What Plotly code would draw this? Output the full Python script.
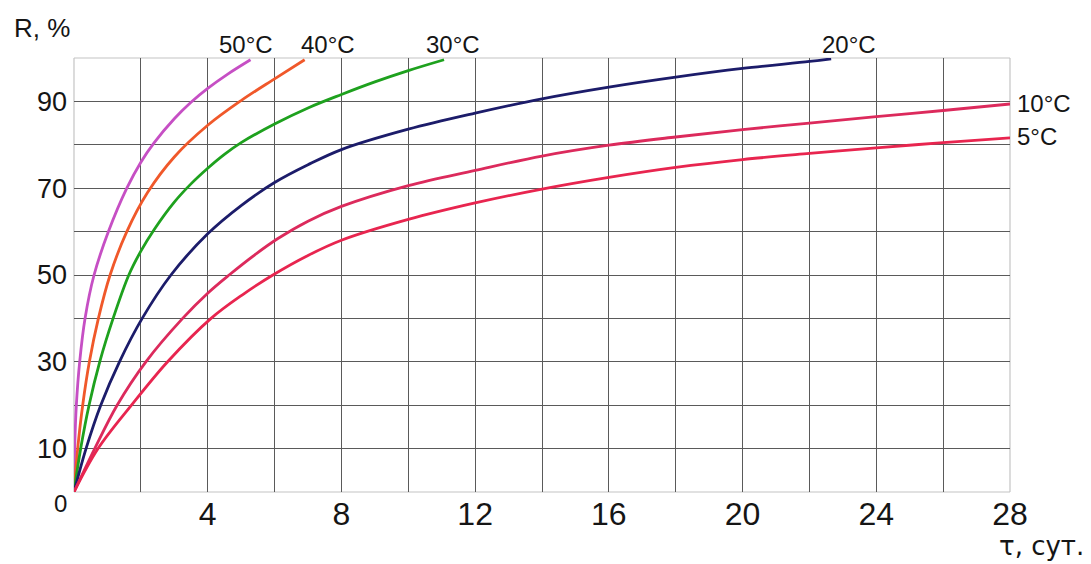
import plotly.graph_objects as go

# ---- data ----
t50 = [0, 0.02, 0.07, 0.17, 0.33, 0.6, 1.03, 1.58, 2.0, 2.4, 3.0, 3.5, 4.0, 4.6, 5.28]
r50 = [0, 10, 20, 30, 40, 50, 60, 70, 76, 80.5, 86, 89.8, 93, 96.3, 99.6]

t40 = [0, 0.11, 0.26, 0.46, 0.73, 1.08, 1.58, 2.2, 3.0, 4.0, 5.0, 6.0, 6.9]
r40 = [0, 10, 20, 30, 40, 50, 60, 69, 77.2, 84.5, 90.2, 95.2, 99.6]

t30 = [0, 0.2, 0.45, 0.77, 1.17, 1.64, 2.0, 2.4, 3.0, 3.5, 4.0, 4.5, 5.0, 6.0, 7.0, 8.0, 9.0, 10.0, 11.07]
r30 = [0, 10, 20, 30, 40, 50, 55.5, 60.5, 66.8, 71, 74.6, 77.8, 80.5, 84.8, 88.5, 91.6, 94.5, 97.1, 99.6]

t20 = [0, 0.36, 0.8, 1.36, 2.04, 2.9, 4.0, 5.0, 6.0, 7.0, 8.0, 10, 12, 14, 16, 18, 20, 22, 22.65]
r20 = [0, 10, 20, 30, 40, 50, 59.5, 66, 71.3, 75.4, 78.9, 83.6, 87.3, 90.6, 93.3, 95.6, 97.6, 99.2, 99.8]

t10 = [0, 0.62, 1.29, 2.15, 3.25, 4.0, 4.64, 5.4, 6.1, 7.0, 8, 10, 12, 14, 16, 18, 20, 22, 24, 26, 28]
r10 = [0, 10, 20, 30, 40, 45.8, 50, 54.6, 58.4, 62.4, 65.8, 70.6, 74.1, 77.4, 79.9, 81.8, 83.5, 85, 86.5, 87.9, 89.4]

t5 = [0, 0.72, 1.72, 2.8, 4.1, 5.05, 5.95, 7.0, 8, 10, 12, 14, 16, 18, 20, 22, 24, 26, 28]
r5 = [0, 10, 20, 30, 40, 45.5, 50, 54.5, 58, 62.8, 66.6, 69.8, 72.5, 74.8, 76.6, 78.0, 79.3, 80.5, 81.6]

names = ["50°C", "40°C", "30°C", "20°C", "10°C", "5°C"]
series_t = [t50, t40, t30, t20, t10, t5]
series_r = [r50, r40, r30, r20, r10, r5]
colors = ["#c64fc4", "#f0582a", "#1ea11e", "#1c1c6a", "#dc2a5c", "#e8254f"]

x_ticks = list(range(0, 29, 2))
x_labels = [str(v) if v % 4 == 0 and v > 0 else "" for v in x_ticks]
y_ticks = list(range(0, 101, 10))
y_labels = [str(v) if v % 20 == 10 else "" for v in y_ticks]

# ---- figure geometry ----
W, H = 1091, 564
L, R, T, B = 74, 81, 58, 72
PW, PH = W - L - R, H - T - B


def px(xp):
    return (xp - L) / PW


def py(yp):
    return (H - B - yp) / PH


fig = go.Figure()
for name, tt, rr, c in zip(names, series_t, series_r, colors):
    fig.add_trace(go.Scatter(x=tt, y=rr, mode="lines", name=name,
                             line=dict(color=c, width=2.8, shape="spline", smoothing=1.0),
                             hoverinfo="skip", cliponaxis=False))

font = "Liberation Sans, Arial, sans-serif"
txt = "#151515"

# border of the plot area (light), drawn between grid and traces
for x0, y0, x1, y1 in [(0, 0, 1, 0), (0, 1, 1, 1), (0, 0, 0, 1), (1, 0, 1, 1)]:
    fig.add_shape(type="line", xref="paper", yref="paper", x0=x0, y0=y0, x1=x1, y1=y1,
                  line=dict(color="#c4c4c4", width=1.2), layer="between")

annotations = []
# top labels for curves ending at 100 %
top_label_x = [5.15, 7.6, 11.34, 23.18]
for name, xv in zip(names[:4], top_label_x):
    annotations.append(dict(x=xv, y=py(44), xref="x", yref="paper", text=name, showarrow=False,
                            font=dict(size=24, family=font, color=txt), xanchor="center", yanchor="middle"))
# right labels
for name, tt, rr in zip(names[4:], series_t[4:], series_r[4:]):
    annotations.append(dict(x=tt[-1], y=rr[-1], xref="x", yref="y", text=name, showarrow=False,
                            font=dict(size=24, family=font, color=txt), xanchor="left", yanchor="middle",
                            xshift=5, yshift=1))
annotations.append(dict(x=px(12), y=py(28), xref="paper", yref="paper", text="R, %", showarrow=False,
                        font=dict(size=26, family=font, color=txt), xanchor="left", yanchor="middle"))
annotations.append(dict(x=px(60), y=py(503), xref="paper", yref="paper", text="0", showarrow=False,
                        font=dict(size=24, family=font, color=txt), xanchor="center", yanchor="middle"))
annotations.append(dict(x=px(1086), y=py(546), xref="paper", yref="paper", text="τ, сут.", showarrow=False,
                        font=dict(size=26, family="DejaVu Sans, sans-serif", color=txt),
                        xanchor="right", yanchor="middle"))

fig.update_layout(
    width=W, height=H,
    margin=dict(l=L, r=R, t=T, b=B, pad=0),
    paper_bgcolor="white", plot_bgcolor="white",
    showlegend=False,
    annotations=annotations,
    xaxis=dict(range=[0, 28], tickmode="array", tickvals=x_ticks, ticktext=x_labels,
               showgrid=True, gridcolor="#5a5a5a", gridwidth=1, zeroline=False, showline=False,
               ticks="", tickfont=dict(size=32, family=font, color=txt), ticklabelstandoff=0),
    yaxis=dict(range=[0, 100], tickmode="array", tickvals=y_ticks, ticktext=y_labels,
               showgrid=True, gridcolor="#5a5a5a", gridwidth=1, zeroline=False, showline=False,
               ticks="", tickfont=dict(size=27, family=font, color=txt), ticklabelstandoff=6),
)

fig.write_html("out.html")
